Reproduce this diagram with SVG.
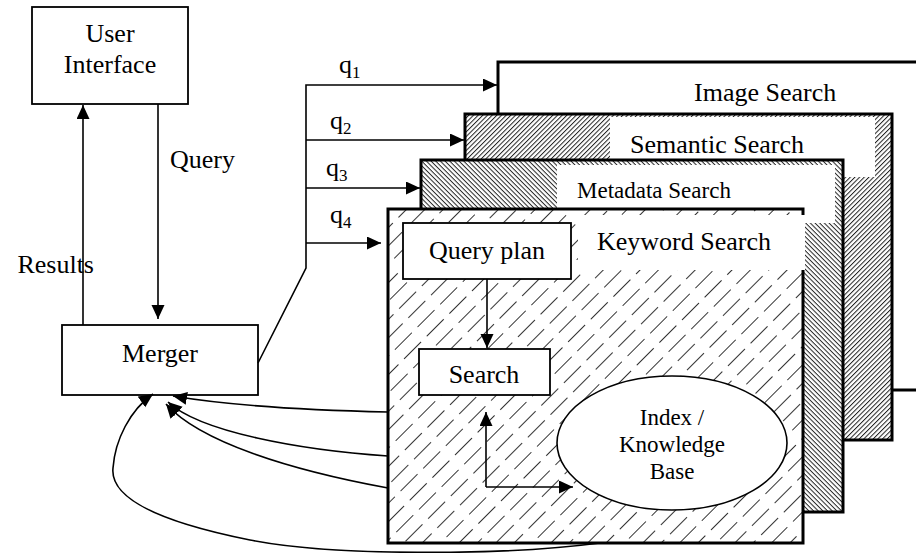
<svg xmlns="http://www.w3.org/2000/svg" width="916" height="553" viewBox="0 0 916 553">
<style>
text{font-family:"Liberation Serif","Times New Roman",serif;fill:#000}
.t26{font-size:26px}
.t23{font-size:23px}
.box{fill:#fff;stroke:#000;stroke-width:1.8}
.panel{stroke:#000;stroke-width:3}
.conn{fill:none;stroke:#000;stroke-width:1.6}
</style>
<defs>
<marker id="ah" markerUnits="userSpaceOnUse" markerWidth="15" markerHeight="14" refX="14" refY="6.5" orient="auto">
<path d="M0,0 L14,6.5 L0,13 z" fill="#000"/>
</marker>
<pattern id="kw" patternUnits="userSpaceOnUse" width="32" height="13" patternTransform="rotate(-45)">
<rect width="32" height="13" fill="#fff"/>
<line x1="0" y1="6.5" x2="24" y2="6.5" stroke="#333" stroke-width="1"/>
</pattern>
<pattern id="sem" patternUnits="userSpaceOnUse" width="10" height="3.3" patternTransform="rotate(-45)">
<rect width="10" height="3.3" fill="#fff"/>
<rect y="0" width="10" height="1" fill="#222"/>
</pattern>
<pattern id="meta" patternUnits="userSpaceOnUse" width="10" height="3.3" patternTransform="rotate(45)">
<rect width="10" height="3.3" fill="#fff"/>
<rect y="0" width="10" height="1" fill="#222"/>
</pattern>
</defs>
<rect width="916" height="553" fill="#fff"/>

<g id="image-search">
<rect class="panel" x="498" y="62" width="440" height="328" fill="#fff"/>
<text class="t26" x="694" y="101">Image Search</text>
</g>

<g id="semantic-search">
<rect class="panel" x="465" y="114" width="427" height="326" fill="url(#sem)"/>
<rect x="610" y="117" width="265" height="60" fill="#fff"/>
<text class="t26" x="630" y="153">Semantic Search</text>
</g>

<g id="metadata-search">
<rect class="panel" x="421" y="160" width="422" height="352" fill="url(#meta)"/>
<rect x="557" y="165" width="278" height="58" fill="#fff"/>
<text class="t23" x="577" y="198">Metadata Search</text>
</g>

<g id="keyword-search">
<rect class="panel" x="388" y="209" width="415" height="334" fill="url(#kw)"/>
<rect x="578" y="215" width="227" height="55" fill="#fff"/>
<text class="t26" x="597" y="250">Keyword Search</text>
</g>

<g id="query-plan">
<rect class="box" x="403" y="223" width="168" height="56"/>
<text class="t26" x="487" y="259" text-anchor="middle">Query plan</text>
</g>

<g id="search">
<rect class="box" x="419" y="349" width="131" height="46"/>
<text class="t26" x="484" y="383" text-anchor="middle">Search</text>
</g>

<g id="index">
<ellipse cx="672" cy="443" rx="115" ry="67" fill="#fff" stroke="#000" stroke-width="1.6"/>
<text class="t23" x="672" y="425" text-anchor="middle">Index /</text>
<text class="t23" x="672" y="452" text-anchor="middle">Knowledge</text>
<text class="t23" x="672" y="479" text-anchor="middle">Base</text>
</g>

<g id="user-interface">
<rect class="box" x="32" y="7" width="156" height="97" stroke-width="2.2"/>
<text class="t26" x="110" y="42" text-anchor="middle">User</text>
<text class="t26" x="110" y="73" text-anchor="middle">Interface</text>
</g>

<g id="merger">
<rect class="box" x="62" y="325" width="196" height="70"/>
<text class="t26" x="160" y="362" text-anchor="middle">Merger</text>
</g>

<g id="connectors">
<path class="conn" d="M83,325 L83,105" marker-end="url(#ah)"/>
<path class="conn" d="M158,104 L158,319" marker-end="url(#ah)"/>
<path class="conn" d="M258,363 L306,268 L306,85 L497,85" marker-end="url(#ah)"/>
<path class="conn" d="M306,140 L464,140" marker-end="url(#ah)"/>
<path class="conn" d="M306,188 L420,188" marker-end="url(#ah)"/>
<path class="conn" d="M306,243 L381,243" marker-end="url(#ah)"/>
<path class="conn" d="M487,279 L487,348" marker-end="url(#ah)"/>
<path class="conn" d="M486,487 L486,412" marker-end="url(#ah)"/>
<path class="conn" d="M486,487 L573,487" marker-end="url(#ah)"/>
<path class="conn" d="M388,412 C300,410 220,404 173,396" marker-end="url(#ah)"/>
<path class="conn" d="M388,456 C300,450 200,432 168,402" marker-end="url(#ah)"/>
<path class="conn" d="M388,488 C290,470 200,442 166,404" marker-end="url(#ah)"/>
<path class="conn" d="M600,543 C500,556 330,556 250,540 C150,520 110,495 113,468 C115,440 130,410 153,394" marker-end="url(#ah)"/>
<text class="t26" x="339" y="73">q</text><text x="352" y="78" font-size="17">1</text>
<text class="t26" x="330" y="129">q</text><text x="343" y="134" font-size="17">2</text>
<text class="t26" x="326" y="176">q</text><text x="339" y="181" font-size="17">3</text>
<text class="t26" x="330" y="223">q</text><text x="343" y="228" font-size="17">4</text>
<text class="t26" x="170" y="168">Query</text>
<text class="t26" x="94" y="273" text-anchor="end">Results</text>
</g>
</svg>
